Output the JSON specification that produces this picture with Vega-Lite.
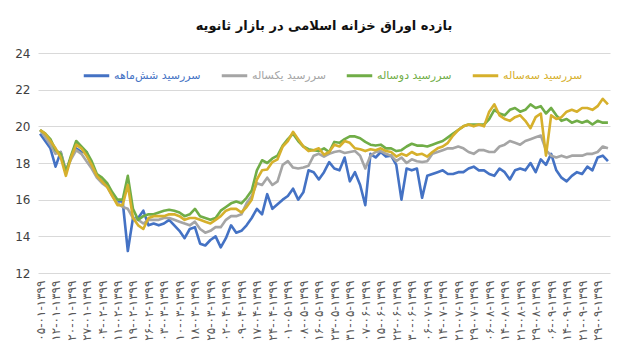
{
"$schema": "https://vega.github.io/schema/vega-lite/v6.json",
"width": 626, "height": 352,
"autosize": {"type": "fit", "contains": "padding"},
"padding": {"left": 14, "right": 16, "top": 20, "bottom": 11},
"background": "white",
"title": {"text": "بازده اوراق خزانه اسلامی در بازار ثانویه", "font": "DejaVu Sans", "fontSize": 13, "fontWeight": "bold", "color": "#111111", "anchor": "middle", "offset": 14},
"config": {"view": {"stroke": null}, "font": "DejaVu Sans"},
"data": {"values": [
{"d":"۰۵-۰۱-۱۳۹۹","a":19.6,"b":19.8,"c":19.8,"e":19.8},
{"d":"۰۷-۰۱-۱۳۹۹","a":19.2,"b":19.4,"c":19.6,"e":19.6},
{"d":"۱۰-۰۱-۱۳۹۹","a":18.8,"b":19.0,"c":19.3,"e":19.2},
{"d":"۱۲-۰۱-۱۳۹۹","a":17.8,"b":18.5,"c":18.7,"e":18.8},
{"d":"۱۵-۰۱-۱۳۹۹","a":18.6,"b":18.6,"c":18.5,"e":18.3},
{"d":"۱۷-۰۱-۱۳۹۹","a":17.5,"b":17.6,"c":17.5,"e":17.3},
{"d":"۲۰-۰۱-۱۳۹۹","a":18.3,"b":18.2,"c":18.4,"e":18.3},
{"d":"۲۲-۰۱-۱۳۹۹","a":18.8,"b":18.7,"c":19.2,"e":19.0},
{"d":"۲۵-۰۱-۱۳۹۹","a":18.6,"b":18.5,"c":18.9,"e":18.8},
{"d":"۲۷-۰۱-۱۳۹۹","a":18.6,"b":18.1,"c":18.6,"e":18.4},
{"d":"۳۰-۰۱-۱۳۹۹","a":17.8,"b":17.7,"c":18.1,"e":17.9},
{"d":"۰۱-۰۲-۱۳۹۹","a":17.3,"b":17.2,"c":17.4,"e":17.3},
{"d":"۰۴-۰۲-۱۳۹۹","a":17.0,"b":16.9,"c":17.2,"e":17.0},
{"d":"۰۶-۰۲-۱۳۹۹","a":16.8,"b":16.7,"c":16.9,"e":16.7},
{"d":"۰۹-۰۲-۱۳۹۹","a":16.3,"b":16.2,"c":16.4,"e":16.2},
{"d":"۱۱-۰۲-۱۳۹۹","a":15.9,"b":15.8,"c":16.0,"e":15.7},
{"d":"۱۴-۰۲-۱۳۹۹","a":15.9,"b":15.6,"c":16.0,"e":15.7},
{"d":"۱۶-۰۲-۱۳۹۹","a":13.2,"b":15.5,"c":17.3,"e":16.8},
{"d":"۱۹-۰۲-۱۳۹۹","a":15.0,"b":15.0,"c":15.5,"e":15.0},
{"d":"۲۱-۰۲-۱۳۹۹","a":15.0,"b":14.9,"c":14.9,"e":14.6},
{"d":"۲۴-۰۲-۱۳۹۹","a":15.4,"b":14.7,"c":15.1,"e":14.4},
{"d":"۲۶-۰۲-۱۳۹۹","a":14.6,"b":14.9,"c":15.2,"e":15.0},
{"d":"۲۹-۰۲-۱۳۹۹","a":14.7,"b":14.9,"c":15.2,"e":15.1},
{"d":"۳۱-۰۲-۱۳۹۹","a":14.6,"b":14.9,"c":15.3,"e":15.1},
{"d":"۰۳-۰۳-۱۳۹۹","a":14.7,"b":15.0,"c":15.4,"e":15.1},
{"d":"۰۵-۰۳-۱۳۹۹","a":14.9,"b":15.0,"c":15.45,"e":15.2},
{"d":"۰۸-۰۳-۱۳۹۹","a":14.6,"b":14.9,"c":15.4,"e":15.2},
{"d":"۱۰-۰۳-۱۳۹۹","a":14.3,"b":14.8,"c":15.3,"e":15.1},
{"d":"۱۳-۰۳-۱۳۹۹","a":13.9,"b":14.7,"c":15.1,"e":14.9},
{"d":"۱۵-۰۳-۱۳۹۹","a":14.4,"b":14.6,"c":15.2,"e":15.0},
{"d":"۱۸-۰۳-۱۳۹۹","a":14.5,"b":14.8,"c":15.5,"e":15.0},
{"d":"۲۰-۰۳-۱۳۹۹","a":13.6,"b":14.4,"c":15.1,"e":14.9},
{"d":"۲۳-۰۳-۱۳۹۹","a":13.5,"b":14.2,"c":15.0,"e":14.8},
{"d":"۲۵-۰۳-۱۳۹۹","a":13.8,"b":14.3,"c":14.9,"e":14.7},
{"d":"۲۸-۰۳-۱۳۹۹","a":14.0,"b":14.5,"c":15.0,"e":14.9},
{"d":"۳۰-۰۳-۱۳۹۹","a":13.4,"b":14.5,"c":15.4,"e":15.1},
{"d":"۰۲-۰۴-۱۳۹۹","a":13.9,"b":14.9,"c":15.6,"e":15.4},
{"d":"۰۴-۰۴-۱۳۹۹","a":14.6,"b":15.1,"c":15.8,"e":15.5},
{"d":"۰۷-۰۴-۱۳۹۹","a":14.2,"b":15.1,"c":15.9,"e":15.5},
{"d":"۰۹-۰۴-۱۳۹۹","a":14.3,"b":15.2,"c":15.8,"e":15.3},
{"d":"۱۲-۰۴-۱۳۹۹","a":14.6,"b":15.8,"c":16.1,"e":15.6},
{"d":"۱۴-۰۴-۱۳۹۹","a":15.0,"b":16.2,"c":16.5,"e":16.0},
{"d":"۱۷-۰۴-۱۳۹۹","a":15.5,"b":16.9,"c":17.6,"e":17.1},
{"d":"۱۹-۰۴-۱۳۹۹","a":15.2,"b":16.8,"c":18.15,"e":17.6},
{"d":"۲۲-۰۴-۱۳۹۹","a":16.3,"b":17.2,"c":18.0,"e":17.65},
{"d":"۲۴-۰۴-۱۳۹۹","a":15.5,"b":16.8,"c":18.25,"e":18.05},
{"d":"۲۷-۰۴-۱۳۹۹","a":15.75,"b":17.0,"c":18.4,"e":18.2},
{"d":"۲۹-۰۴-۱۳۹۹","a":16.0,"b":17.9,"c":18.95,"e":18.9},
{"d":"۰۱-۰۵-۱۳۹۹","a":16.2,"b":18.1,"c":19.3,"e":19.2},
{"d":"۰۳-۰۵-۱۳۹۹","a":16.6,"b":17.75,"c":19.6,"e":19.7},
{"d":"۰۶-۰۵-۱۳۹۹","a":16.0,"b":17.7,"c":19.2,"e":19.3},
{"d":"۰۸-۰۵-۱۳۹۹","a":16.4,"b":17.75,"c":18.9,"e":18.9},
{"d":"۱۱-۰۵-۱۳۹۹","a":17.6,"b":17.85,"c":18.75,"e":18.65},
{"d":"۱۳-۰۵-۱۳۹۹","a":17.5,"b":18.4,"c":18.7,"e":18.7},
{"d":"۱۶-۰۵-۱۳۹۹","a":17.1,"b":18.5,"c":18.65,"e":18.8},
{"d":"۱۸-۰۵-۱۳۹۹","a":17.5,"b":18.35,"c":18.8,"e":18.45},
{"d":"۲۱-۰۵-۱۳۹۹","a":18.05,"b":18.5,"c":18.6,"e":18.6},
{"d":"۲۳-۰۵-۱۳۹۹","a":17.7,"b":18.6,"c":19.15,"e":19.0},
{"d":"۲۶-۰۵-۱۳۹۹","a":17.6,"b":18.65,"c":19.1,"e":18.9},
{"d":"۲۸-۰۵-۱۳۹۹","a":18.3,"b":18.55,"c":19.3,"e":19.2},
{"d":"۳۱-۰۵-۱۳۹۹","a":17.0,"b":18.6,"c":19.45,"e":19.1},
{"d":"۰۲-۰۶-۱۳۹۹","a":17.5,"b":18.65,"c":19.45,"e":18.8},
{"d":"۰۵-۰۶-۱۳۹۹","a":16.8,"b":18.4,"c":19.35,"e":18.75},
{"d":"۰۷-۰۶-۱۳۹۹","a":15.7,"b":17.7,"c":19.15,"e":18.65},
{"d":"۱۰-۰۶-۱۳۹۹","a":18.5,"b":18.4,"c":19.0,"e":18.75},
{"d":"۱۲-۰۶-۱۳۹۹","a":18.3,"b":18.6,"c":18.95,"e":18.7},
{"d":"۱۵-۰۶-۱۳۹۹","a":18.6,"b":18.65,"c":19.0,"e":18.8},
{"d":"۱۷-۰۶-۱۳۹۹","a":18.35,"b":18.5,"c":18.8,"e":18.65},
{"d":"۲۰-۰۶-۱۳۹۹","a":18.4,"b":18.4,"c":18.8,"e":18.6},
{"d":"۲۲-۰۶-۱۳۹۹","a":17.9,"b":18.1,"c":18.65,"e":18.35},
{"d":"۲۵-۰۶-۱۳۹۹","a":16.0,"b":18.3,"c":18.7,"e":18.5},
{"d":"۲۷-۰۶-۱۳۹۹","a":17.7,"b":18.0,"c":18.9,"e":18.4},
{"d":"۳۰-۰۶-۱۳۹۹","a":17.6,"b":18.2,"c":19.05,"e":18.6},
{"d":"۰۱-۰۷-۱۳۹۹","a":17.7,"b":18.1,"c":18.95,"e":18.45},
{"d":"۰۴-۰۷-۱۳۹۹","a":16.1,"b":18.05,"c":18.95,"e":18.5},
{"d":"۰۶-۰۷-۱۳۹۹","a":17.3,"b":18.1,"c":18.9,"e":18.35},
{"d":"۰۹-۰۷-۱۳۹۹","a":17.4,"b":18.5,"c":19.0,"e":18.6},
{"d":"۱۱-۰۷-۱۳۹۹","a":17.5,"b":18.6,"c":19.1,"e":18.8},
{"d":"۱۴-۰۷-۱۳۹۹","a":17.6,"b":18.7,"c":19.2,"e":18.9},
{"d":"۱۶-۰۷-۱۳۹۹","a":17.4,"b":18.8,"c":19.4,"e":19.1},
{"d":"۱۹-۰۷-۱۳۹۹","a":17.4,"b":18.8,"c":19.6,"e":19.5},
{"d":"۲۱-۰۷-۱۳۹۹","a":17.5,"b":18.9,"c":19.8,"e":19.8},
{"d":"۲۴-۰۷-۱۳۹۹","a":17.5,"b":18.8,"c":20.0,"e":20.0},
{"d":"۲۶-۰۷-۱۳۹۹","a":17.7,"b":18.6,"c":20.1,"e":20.1},
{"d":"۲۹-۰۷-۱۳۹۹","a":17.8,"b":18.5,"c":20.1,"e":20.0},
{"d":"۰۱-۰۸-۱۳۹۹","a":17.6,"b":18.7,"c":20.1,"e":20.1},
{"d":"۰۴-۰۸-۱۳۹۹","a":17.6,"b":18.7,"c":20.1,"e":20.0},
{"d":"۰۶-۰۸-۱۳۹۹","a":17.4,"b":18.6,"c":20.4,"e":20.8},
{"d":"۰۹-۰۸-۱۳۹۹","a":17.3,"b":18.6,"c":20.9,"e":21.2},
{"d":"۱۱-۰۸-۱۳۹۹","a":17.7,"b":18.9,"c":20.7,"e":20.6},
{"d":"۱۴-۰۸-۱۳۹۹","a":17.5,"b":19.0,"c":20.6,"e":20.4},
{"d":"۱۶-۰۸-۱۳۹۹","a":17.1,"b":19.2,"c":20.9,"e":20.3},
{"d":"۱۹-۰۸-۱۳۹۹","a":17.6,"b":19.1,"c":21.0,"e":20.5},
{"d":"۲۱-۰۸-۱۳۹۹","a":17.7,"b":19.0,"c":20.8,"e":20.6},
{"d":"۲۴-۰۸-۱۳۹۹","a":17.6,"b":19.2,"c":20.9,"e":20.3},
{"d":"۲۶-۰۸-۱۳۹۹","a":18.0,"b":19.3,"c":21.2,"e":19.9},
{"d":"۲۹-۰۸-۱۳۹۹","a":17.5,"b":19.4,"c":21.0,"e":20.5},
{"d":"۰۱-۰۹-۱۳۹۹","a":18.2,"b":19.5,"c":21.1,"e":20.7},
{"d":"۰۴-۰۹-۱۳۹۹","a":17.9,"b":18.7,"c":20.7,"e":18.4},
{"d":"۰۶-۰۹-۱۳۹۹","a":18.5,"b":18.4,"c":21.0,"e":20.6},
{"d":"۰۹-۰۹-۱۳۹۹","a":17.6,"b":18.3,"c":20.6,"e":20.4},
{"d":"۱۱-۰۹-۱۳۹۹","a":17.2,"b":18.4,"c":20.3,"e":20.5},
{"d":"۱۴-۰۹-۱۳۹۹","a":17.0,"b":18.3,"c":20.4,"e":20.8},
{"d":"۱۶-۰۹-۱۳۹۹","a":17.3,"b":18.4,"c":20.2,"e":20.9},
{"d":"۱۹-۰۹-۱۳۹۹","a":17.5,"b":18.4,"c":20.3,"e":20.8},
{"d":"۲۱-۰۹-۱۳۹۹","a":17.4,"b":18.4,"c":20.2,"e":21.0},
{"d":"۲۴-۰۹-۱۳۹۹","a":17.8,"b":18.5,"c":20.3,"e":21.0},
{"d":"۲۶-۰۹-۱۳۹۹","a":17.6,"b":18.5,"c":20.1,"e":20.9},
{"d":"۲۹-۰۹-۱۳۹۹","a":18.3,"b":18.6,"c":20.3,"e":21.1},
{"d":"۰۱-۱۰-۱۳۹۹","a":18.4,"b":18.9,"c":20.2,"e":21.5},
{"d":"۰۴-۱۰-۱۳۹۹","a":18.1,"b":18.8,"c":20.2,"e":21.2}
]},
"transform": [{"fold": ["a", "b", "c", "e"], "as": ["series", "value"]}],
"mark": {"type": "line", "strokeWidth": 2.6, "strokeJoin": "round"},
"encoding": {
  "x": {"field": "d", "type": "ordinal", "sort": null,
    "scale": {"type": "point", "padding": 0.4},
    "axis": {"title": null, "labelAngle": -90, "labelFontSize": 12, "labelColor": "#595959", "ticks": false, "domain": false, "grid": false, "labelPadding": 7,
      "values": ["۰۵-۰۱-۱۳۹۹","۱۲-۰۱-۱۳۹۹","۲۰-۰۱-۱۳۹۹","۲۷-۰۱-۱۳۹۹","۰۴-۰۲-۱۳۹۹","۱۱-۰۲-۱۳۹۹","۱۹-۰۲-۱۳۹۹","۲۶-۰۲-۱۳۹۹","۰۳-۰۳-۱۳۹۹","۱۰-۰۳-۱۳۹۹","۱۸-۰۳-۱۳۹۹","۲۵-۰۳-۱۳۹۹","۰۲-۰۴-۱۳۹۹","۰۹-۰۴-۱۳۹۹","۱۷-۰۴-۱۳۹۹","۲۴-۰۴-۱۳۹۹","۰۱-۰۵-۱۳۹۹","۰۸-۰۵-۱۳۹۹","۱۶-۰۵-۱۳۹۹","۲۳-۰۵-۱۳۹۹","۳۱-۰۵-۱۳۹۹","۰۷-۰۶-۱۳۹۹","۱۵-۰۶-۱۳۹۹","۲۲-۰۶-۱۳۹۹","۳۰-۰۶-۱۳۹۹","۰۶-۰۷-۱۳۹۹","۱۴-۰۷-۱۳۹۹","۲۱-۰۷-۱۳۹۹","۲۹-۰۷-۱۳۹۹","۰۶-۰۸-۱۳۹۹","۱۴-۰۸-۱۳۹۹","۲۱-۰۸-۱۳۹۹","۲۹-۰۸-۱۳۹۹","۰۶-۰۹-۱۳۹۹","۱۴-۰۹-۱۳۹۹","۲۱-۰۹-۱۳۹۹","۲۹-۰۹-۱۳۹۹"]}},
  "y": {"field": "value", "type": "quantitative", "scale": {"domain": [12, 24]},
    "axis": {"title": null, "values": [12, 14, 16, 18, 20, 22, 24], "grid": true, "gridColor": "#d9d9d9", "ticks": false, "domain": false, "labelFontSize": 12, "labelColor": "#404040", "labelPadding": 8}},
  "color": {"field": "series", "type": "nominal",
    "scale": {"domain": ["a", "b", "c", "e"], "range": ["#4472C4", "#A5A5A5", "#70AD47", "#D6B02C"]},
    "legend": {"title": null, "orient": "none", "legendX": 44, "legendY": 8, "direction": "horizontal", "columns": 4,
      "symbolType": "stroke", "symbolSize": 650, "symbolStrokeWidth": 3, "labelFontSize": 11, "columnPadding": 14, "labelOffset": 3,
      "labelExpr": "datum.value == 'a' ? 'سررسید شش‌ماهه' : datum.value == 'b' ? 'سررسید یکساله' : datum.value == 'c' ? 'سررسید دوساله' : 'سررسید سه‌ساله'",
      "encode": {"labels": {"update": {"fill": {"scale": "color", "field": "value"}}}}}}
}
}
